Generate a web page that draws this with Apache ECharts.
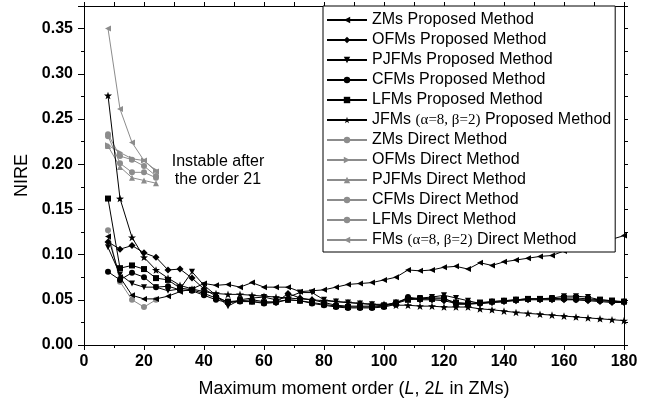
<!DOCTYPE html>
<html>
<head>
<meta charset="utf-8">
<script src="https://cdn.jsdelivr.net/npm/echarts@6/dist/echarts.min.js"></script>
<style>
  html, body { margin: 0; padding: 0; background: #fff; }
  #chart { width: 652px; height: 404px; }
</style>
</head>
<body>
<div id="chart"></div>
<script>
// Maximum moment orders (L; 2L for ZMs)
const ordersProposed = [8,12,16,20,24,28,32,36,40,44,48,52,56,60,64,68,72,76,80,84,88,92,96,100,104,108,112,116,120,124,128,132,136,140,144,148,152,156,160,164,168,172,176,180];
const ordersDirect = [8,12,16,20,24];

// NIRE, proposed (recursive) method
const zmsProposed   = [0.120,0.075,0.055,0.051,0.051,0.054,0.059,0.062,0.068,0.066,0.067,0.064,0.069,0.064,0.064,0.064,0.059,0.060,0.061,0.064,0.067,0.068,0.069,0.072,0.075,0.083,0.082,0.083,0.086,0.087,0.084,0.091,0.088,0.092,0.094,0.096,0.098,0.099,0.104,0.108,0.111,0.114,0.117,0.121];
const ofmsProposed  = [0.114,0.106,0.110,0.102,0.097,0.083,0.084,0.074,0.062,0.054,0.047,0.049,0.050,0.048,0.047,0.057,0.052,0.050,0.047,0.044,0.043,0.043,0.043,0.044,0.047,0.052,0.050,0.050,0.049,0.046,0.046,0.046,0.047,0.048,0.049,0.050,0.050,0.050,0.050,0.050,0.049,0.048,0.047,0.047];
const pjfmsProposed = [0.108,0.078,0.068,0.064,0.064,0.060,0.062,0.081,0.066,0.055,0.043,0.050,0.052,0.053,0.050,0.053,0.058,0.058,0.050,0.048,0.047,0.046,0.045,0.044,0.047,0.051,0.052,0.053,0.055,0.052,0.049,0.046,0.047,0.048,0.050,0.051,0.051,0.052,0.054,0.054,0.053,0.050,0.049,0.047];
const cfmsProposed  = [0.081,0.072,0.080,0.075,0.064,0.065,0.061,0.060,0.055,0.050,0.047,0.048,0.048,0.046,0.047,0.050,0.049,0.046,0.044,0.042,0.041,0.041,0.041,0.042,0.045,0.053,0.051,0.052,0.052,0.045,0.045,0.046,0.048,0.049,0.050,0.051,0.051,0.051,0.051,0.050,0.050,0.049,0.048,0.048];
const lfmsProposed  = [0.162,0.085,0.088,0.084,0.074,0.072,0.063,0.061,0.057,0.052,0.048,0.049,0.048,0.047,0.048,0.050,0.049,0.047,0.045,0.043,0.042,0.042,0.042,0.043,0.046,0.050,0.051,0.051,0.051,0.047,0.046,0.047,0.048,0.049,0.050,0.051,0.051,0.051,0.052,0.052,0.051,0.050,0.049,0.048];
const jfmsProposed  = [0.276,0.162,0.119,0.097,0.083,0.074,0.066,0.062,0.059,0.057,0.056,0.056,0.055,0.054,0.053,0.052,0.051,0.050,0.049,0.048,0.047,0.046,0.045,0.045,0.044,0.044,0.043,0.043,0.042,0.042,0.042,0.040,0.039,0.0375,0.036,0.035,0.034,0.033,0.032,0.031,0.030,0.029,0.028,0.027];

// NIRE, direct method (unstable beyond order 21)
const zmsDirect   = [0.127,0.070,0.050,0.042,0.050];
const ofmsDirect  = [0.221,0.213,0.206,0.204,0.193];
const pjfmsDirect = [0.220,0.197,0.185,0.182,0.179];
const cfmsDirect  = [0.233,0.209,0.205,0.198,0.187];
const lfmsDirect  = [0.231,0.201,0.191,0.191,0.185];
const fmsDirect   = [0.350,0.261,0.224,0.204,0.192];

const xTicks = [0,20,40,60,80,100,120,140,160,180];
const yTicks = [0.00,0.05,0.10,0.15,0.20,0.25,0.30,0.35];

const BLACK = '#000000';
const GRAY = '#8c8c8c';
const STAR = 'path://M0,-10L2.35,-3.24L9.51,-3.09L3.8,1.24L5.88,8.09L0,4.2L-5.88,8.09L-3.8,1.24L-9.51,-3.09L-2.35,-3.24Z';

const zip = (xs, ys) => xs.map((x, i) => [x, ys[i]]);

function lineSeries(name, xs, ys, color, symbol, rotate, size) {
  return {
    name, type: 'line', data: zip(xs, ys),
    xAxisIndex: 0, yAxisIndex: 0,
    symbol, symbolRotate: rotate, symbolSize: size, symbolKeepAspect: true,
    showSymbol: true,
    lineStyle: { color, width: 1 },
    itemStyle: { color, borderWidth: 0 },
    emphasis: { disabled: true },
    z: color === BLACK ? 3 : 2
  };
}

const directSeries = [
  lineSeries('ZMs Direct Method', ordersDirect, zmsDirect, GRAY, 'circle', 0, 6),
  lineSeries('OFMs Direct Method', ordersDirect, ofmsDirect, GRAY, 'triangle', -90, 6),
  lineSeries('PJFMs Direct Method', ordersDirect, pjfmsDirect, GRAY, 'triangle', 0, 6),
  lineSeries('CFMs Direct Method', ordersDirect, cfmsDirect, GRAY, 'circle', 0, 6),
  lineSeries('LFMs Direct Method', ordersDirect, lfmsDirect, GRAY, 'circle', 0, 6),
  lineSeries('FMs (α=8, β=2) Direct Method', ordersDirect, fmsDirect, GRAY, 'triangle', 90, 6)
];
const proposedSeries = [
  lineSeries('ZMs Proposed Method', ordersProposed, zmsProposed, BLACK, 'triangle', 90, 6),
  lineSeries('OFMs Proposed Method', ordersProposed, ofmsProposed, BLACK, 'diamond', 0, 7),
  lineSeries('PJFMs Proposed Method', ordersProposed, pjfmsProposed, BLACK, 'triangle', 180, 6),
  lineSeries('CFMs Proposed Method', ordersProposed, cfmsProposed, BLACK, 'circle', 0, 6),
  lineSeries('LFMs Proposed Method', ordersProposed, lfmsProposed, BLACK, 'rect', 0, 6),
  lineSeries('JFMs (α=8, β=2) Proposed Method', ordersProposed, jfmsProposed, BLACK, STAR, 0, 8)
];

const legendOrder = proposedSeries.map(s => s.name).concat(directSeries.map(s => s.name));

const FONT = '"Liberation Sans", Arial, sans-serif';
const tickFmt2 = v => {
  const hit = yTicks.find(t => Math.abs(t - v) < 1e-9);
  return hit === undefined ? '' : hit.toFixed(2);
};

const chart = echarts.init(document.getElementById('chart'), null, { renderer: 'canvas' });
chart.setOption({
  animation: false,
  backgroundColor: '#ffffff',
  grid: { left: 84, right: 28, top: 6, bottom: 59, show: false },
  xAxis: [
    {
      type: 'value', min: xTicks[0], max: xTicks[xTicks.length - 1], interval: 20,
      position: 'bottom',
      name: 'Maximum moment order ({i|L}, 2{i|L} in ZMs)',
      nameLocation: 'middle', nameGap: 35,
      nameTextStyle: { fontFamily: FONT, fontSize: 18, color: BLACK,
        rich: { i: { fontFamily: FONT, fontSize: 18, fontStyle: 'italic', color: BLACK } } },
      axisLine: { show: true, onZero: false, lineStyle: { color: BLACK, width: 1 } },
      axisTick: { show: true, inside: false, length: 5, lineStyle: { color: BLACK, width: 1 } },
      minorTick: { show: true, splitNumber: 2, length: 3, lineStyle: { color: BLACK, width: 1 } },
      splitLine: { show: false },
      axisLabel: { fontFamily: FONT, fontSize: 16, fontWeight: 'bold', color: BLACK, margin: 9 }
    },
    {
      type: 'value', min: 0, max: 180, interval: 10, position: 'top',
      axisLine: { show: true, onZero: false, lineStyle: { color: BLACK, width: 1 } },
      axisTick: { show: true, inside: false, length: 4, lineStyle: { color: BLACK, width: 1 } },
      splitLine: { show: false }, axisLabel: { show: false }
    }
  ],
  yAxis: [
    {
      type: 'value', min: 0, max: 0.375, interval: 0.05, position: 'left',
      name: 'NIRE', nameLocation: 'middle', nameGap: 50,
      nameTextStyle: { fontFamily: FONT, fontSize: 18, color: BLACK },
      axisLine: { show: true, onZero: false, lineStyle: { color: BLACK, width: 1 } },
      axisTick: { show: true, inside: false, length: 6, lineStyle: { color: BLACK, width: 1 } },
      splitLine: { show: false },
      axisLabel: { fontFamily: FONT, fontSize: 16, fontWeight: 'bold', color: BLACK, margin: 11,
        formatter: tickFmt2 }
    },
    {
      type: 'value', min: 0, max: 0.375, interval: 0.025, position: 'left',
      axisLine: { show: false },
      axisTick: { show: true, inside: false, length: 3, lineStyle: { color: BLACK, width: 1 } },
      splitLine: { show: false }, axisLabel: { show: false }
    },
    {
      type: 'value', min: 0, max: 0.375, interval: 0.025, position: 'right',
      axisLine: { show: true, onZero: false, lineStyle: { color: BLACK, width: 1 } },
      axisTick: { show: true, inside: false, length: 4, lineStyle: { color: BLACK, width: 1 } },
      splitLine: { show: false }, axisLabel: { show: false }
    }
  ],
  legend: {
    show: true,
    orient: 'vertical',
    left: 323, top: 6,
    data: legendOrder,
    selectedMode: false,
    backgroundColor: '#ffffff',
    borderColor: BLACK, borderWidth: 1,
    padding: [5, 4, 3, 3],
    itemWidth: 40, itemHeight: 8, itemGap: 2,
    textStyle: {
      fontFamily: FONT, fontSize: 16, color: BLACK, lineHeight: 18, padding: [0, 0, 0, 0],
      rich: { g: { fontFamily: '"Liberation Serif", "Times New Roman", serif', fontSize: 15, color: BLACK, lineHeight: 18 } }
    },
    formatter: name => name.replace(/\((α=8, β=2)\)/, '{g|($1)}'),
    z: 10
  },
  graphic: [
    {
      type: 'text', x: 218, y: 153, z: 5,
      style: {
        text: 'Instable after\nthe order 21',
        font: '16px "Liberation Sans", Arial, sans-serif',
        fill: BLACK, align: 'center', verticalAlign: 'top', lineHeight: 18
      }
    }
  ],
  series: directSeries.concat(proposedSeries)
});
</script>
</body>
</html>
